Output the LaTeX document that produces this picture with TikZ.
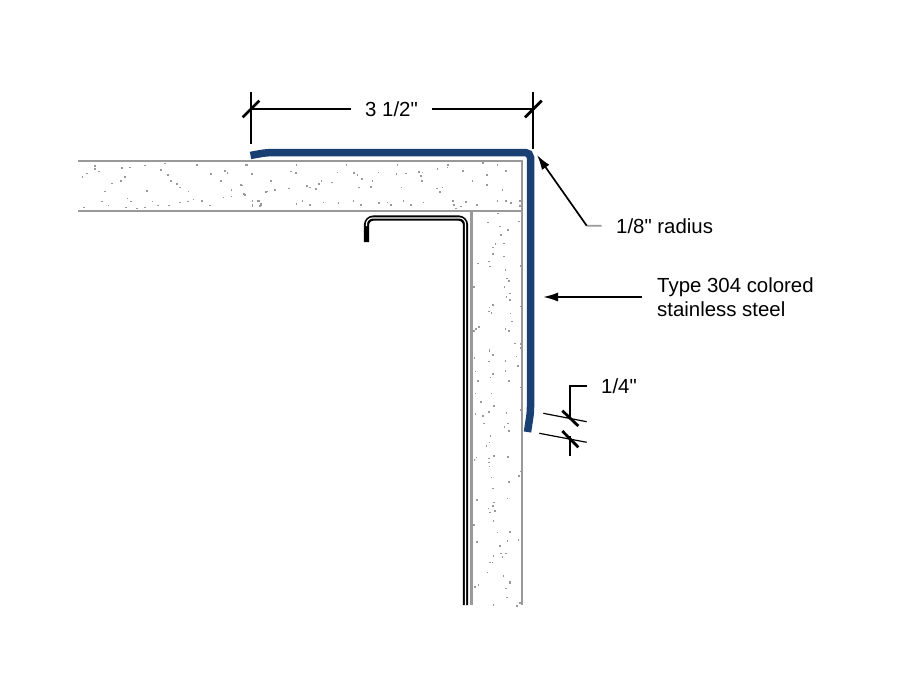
\documentclass[tikz,border=0pt]{standalone}
\usepackage{fontspec}
\setmainfont[Ligatures=TeXOff]{Liberation Sans}
\usetikzlibrary{arrows.meta}
\definecolor{steelblue}{HTML}{1A3F72}
\definecolor{slabgray}{gray}{0.6}
\newcommand{\speckles}[3]{%
  \begin{scope}[shift={(#1,#2)},scale=1/3]
    \foreach \px/\py in {#3} \fill[slabgray] (\px,\py) rectangle +(5,5);
  \end{scope}}

\begin{document}
\begin{tikzpicture}[x=1pt,y=-1pt,
    slabline/.style={draw=slabgray,line width=2.2pt},
    dimline/.style={line width=1.7pt},
    ticks/.style={line width=2.8pt},
    thinline/.style={line width=1.2pt},
    label/.style={inner sep=0pt,font=\fontsize{20.4}{24}\selectfont},
    arrowhead/.style={-{Latex[length=15pt,width=9pt]}}]
  \useasboundingbox (0,0) rectangle (913,685);
  % speckle in the slab
  \speckles{70}{150}{73/45,72/55,85/62,48/68,35/78,153/52,177/50,222/44,282/38,270/57,292/72,378/43,528/42,543/70,462/60,470/66,420/70,162/78,150/90,123/98,300/90,318/100,327/110,353/122,228/120,102/122,450/90,482/117,513/104,522/132,482/137,458/140,588/122,170/143,180/152,93/152,113/164,40/170,165/170,198/173,222/170,245/152,262/164,294/164,327/155,352/152,368/146,393/150,418/164,545/152,561/150,570/158,545/165,567/165}
  \speckles{230}{85}{45/238,197/237,347/237,500/237,652/237,757/232,800/237,63/265,180/257,195/262,320/260,370/262,380/267,443/260,497/265,525/263,565/258,575/260,570/270,620/250,650/245,697/255,768/268,825/255,30/298,120/285,2/312,40/325,105/318,133/312,175/308,228/300,238/305,255/310,272/285,265/295,303/290,425/285,420/303,393/280,385/305,512/305,573/285,618/308,635/305,627/318,725/285,768/297,815/312,65/345,85/345,65/358,90/358,197/355,215/345,237/358,278/350,323/352,368/345,390/358,445/352,470/350,480/358,518/345,540/358,578/350,667/345,670/358,705/348,690/362,738/358,800/345,825/345,840/352,868/345,868/360,675/368}
  \speckles{468}{210}{87/8,57/35,93/47,150/32,118/58,97/72,105/98,80/100,72/110,72/130,105/137,27/158,60/152,63/167,110/177,155/165,115/203,120/210,107/228,15/228,123/248,113/258,123/268,73/282,62/290,155/287,60/302,68/306,125/308,130/332,30/348,22/355,15/360,110/355,120/360,138/398,157/400,155/412,62/418}
  \speckles{468}{350}{62/0,73/12,143/17,60/32,110/30,147/45,17/22,20/62,110/60,73/70,65/80,27/90,120/90,155/110,20/128,68/128,37/153,75/165,155/177,60/183,113/187,20/190,42/195,45/218,117/218,107/228,120/240,65/255,62/275,53/285,75/315,117/318,23/320,60/323,17/327,60/335,62/347,157/362,150/375,68/380,120/393,72/413}
  \speckles{450}{480}{170/53,78/57,130/65,127/75,113/83,132/90,117/95,128/120,70/132,140/155,177/153,170/180,203/177,78/183,147/195,128/225,150/218,165/218,155/228,117/245,125/245,110/275,158/285,177/303,177/308,83/312,72/318,165/323,168/350,207/367,198/375,128/372}
  % slab outline
  \draw[slabline] (78,161) -- (522,161) -- (522,605);
  \draw[slabline] (78,211) -- (522,211);
  \draw[slabline] (471.5,211) -- (471.5,605);
  % channel
  \draw[line width=5.2pt,rounded corners=7pt] (366.5,242) -- (366.5,218) -- (465.5,218) -- (465.5,605);
  \draw[white,line width=1.1pt,rounded corners=6pt] (366.5,226) -- (366.5,218) -- (465.5,218) -- (465.5,605);
  % steel angle
  \draw[steelblue,line width=7.5pt,rounded corners=5pt] (250.5,155.5) .. controls (258,154) and (264,153) .. (272,152.5) -- (530.5,152.5) -- (530.5,412) -- (527.5,432);
  % labels
  \node[label,minimum width=81pt] (lbldim) at (391.5,109) {3 1/2"};
  \node[label,anchor=west] (lblradius) at (616,226) {1/8" radius};
  \node[label,anchor=west,align=left] (lblsteel) at (657,297) {Type 304 colored\\stainless steel};
  \node[label,anchor=west] (lblquarter) at (601,386) {1/4"};
  % overall dimension
  \coordinate (dimL) at (251,109);
  \coordinate (dimR) at (533,109);
  \draw[dimline] (251,92) -- (251,144);
  \draw[dimline] (533,92) -- (533,149);
  \draw[dimline] (dimL) -- (lbldim);
  \draw[dimline] (lbldim) -- (dimR);
  \draw[ticks] (242.7,117.3) -- (259.3,100.7);
  \draw[ticks] (525,117.3) -- (541.7,100.7);
  % leaders
  \coordinate (kneeradius) at (586.7,225.7);
  \coordinate (tipradius) at (537,155);
  \coordinate (tipsteel) at (543,297);
  \draw[slabgray,dimline,shorten <=14.5pt] (lblradius.west) -- (kneeradius);
  \draw[dimline,arrowhead] (kneeradius) -- (tipradius);
  \draw[dimline,arrowhead,shorten <=15pt] (lblsteel.west) -- (tipsteel);
  % thickness
  \draw[dimline] (587,385.7) -- (570,385.7) -- (570,418);
  \draw[dimline] (570,436) -- (570,455.7);
  \draw[thinline] (543.3,413.3) -- (586.7,421.7);
  \draw[thinline] (539.3,433.3) -- (586.7,442.3);
  \draw[ticks] (562.3,410.7) -- (578.3,426);
  \draw[ticks] (562.3,431) -- (578.3,447.3);
\end{tikzpicture}
\end{document}
